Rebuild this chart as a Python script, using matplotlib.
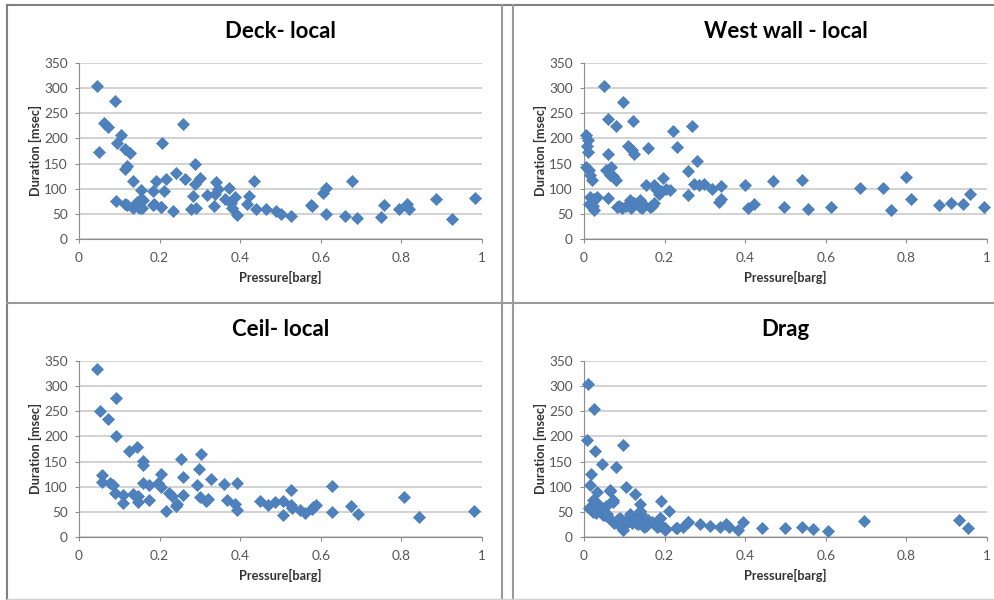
import matplotlib
matplotlib.use("Agg")
import matplotlib.pyplot as plt
from matplotlib.lines import Line2D

plt.rcParams['font.family'] = ['Lato', 'DejaVu Sans']

# Deck- local
deck_p = [0.045, 0.09, 0.05, 0.062, 0.073, 0.104, 0.095, 0.093, 0.114, 0.127,
          0.113, 0.12, 0.134, 0.114, 0.135, 0.143, 0.147, 0.155, 0.16, 0.156,
          0.184, 0.19, 0.185, 0.204, 0.21, 0.207, 0.215, 0.234, 0.24, 0.257,
          0.264, 0.279, 0.291, 0.283, 0.288, 0.288, 0.301, 0.318, 0.336, 0.34,
          0.337, 0.344, 0.363, 0.373, 0.376, 0.388, 0.38, 0.391, 0.416, 0.423,
          0.434, 0.439, 0.465, 0.488, 0.5, 0.525, 0.575, 0.579, 0.606, 0.614,
          0.612, 0.66, 0.691, 0.678, 0.749, 0.757, 0.793, 0.814, 0.819, 0.887,
          0.925, 0.983, 0.118, 0.151, 0.152, 0.184, 0.203]
deck_d = [305, 275, 173, 230, 223, 207, 191, 75, 178, 171,
          140, 146, 116, 69, 61, 74, 64, 97, 77, 61,
          95, 116, 69, 64, 96, 190, 119, 55, 132, 228,
          119, 59, 61, 86, 150, 110, 122, 87, 66, 114,
          89, 100, 79, 102, 71, 84, 61, 47, 69, 85,
          116, 59, 59, 56, 50, 46, 67, 66, 92, 102,
          50, 46, 41, 116, 44, 67, 59, 70, 59, 79,
          39, 82, 68, 78, 61, 67, 64]

# West wall - local
west_p = [0.05, 0.097, 0.059, 0.079, 0.122, 0.005, 0.011, 0.007, 0.009, 0.16,
          0.11, 0.12, 0.125, 0.06, 0.006, 0.012, 0.016, 0.019, 0.055, 0.067,
          0.064, 0.072, 0.08, 0.06, 0.016, 0.019, 0.026, 0.032, 0.026, 0.081,
          0.094, 0.115, 0.117, 0.131, 0.138, 0.15, 0.173, 0.155, 0.173, 0.18,
          0.186, 0.196, 0.204, 0.214, 0.222, 0.23, 0.258, 0.269, 0.257, 0.272,
          0.281, 0.285, 0.297, 0.318, 0.34, 0.334, 0.34, 0.399, 0.407, 0.423,
          0.469, 0.496, 0.541, 0.557, 0.612, 0.685, 0.743, 0.763, 0.8, 0.812,
          0.881, 0.91, 0.941, 0.959, 0.993, 0.138, 0.105, 0.165,
          0.088, 0.125, 0.145, 0.168, 0.178, 0.19, 0.012, 0.022]
west_d = [305, 272, 239, 225, 235, 207, 197, 184, 174, 180,
          184, 176, 170, 169, 144, 137, 127, 117, 137, 144,
          127, 125, 117, 82, 84, 74, 57, 84, 80, 64,
          61, 77, 61, 69, 77, 67, 71, 107, 107, 97,
          90, 122, 100, 97, 215, 182, 135, 225, 87, 109,
          156, 107, 109, 99, 106, 73, 79, 108, 62, 69,
          116, 64, 117, 59, 63, 102, 102, 57, 124, 79,
          67, 72, 69, 90, 63, 64, 66, 64,
          66, 72, 62, 65, 100, 95, 70, 65]

# Ceil- local
ceil_p = [0.045, 0.053, 0.072, 0.092, 0.093, 0.123, 0.145, 0.158, 0.158, 0.056,
          0.058, 0.077, 0.085, 0.089, 0.11, 0.108, 0.133, 0.147, 0.147, 0.158,
          0.174, 0.174, 0.197, 0.203, 0.203, 0.217, 0.224, 0.23, 0.24, 0.243,
          0.254, 0.259, 0.257, 0.292, 0.298, 0.302, 0.3, 0.315, 0.321, 0.328,
          0.36, 0.367, 0.388, 0.393, 0.393, 0.449, 0.469, 0.486, 0.507, 0.507,
          0.525, 0.527, 0.528, 0.548, 0.562, 0.577, 0.581, 0.589, 0.628, 0.628,
          0.674, 0.693, 0.807, 0.844, 0.979]
ceil_d = [334, 250, 234, 276, 200, 171, 179, 151, 143, 123,
          110, 108, 103, 88, 83, 68, 85, 81, 70, 108,
          104, 74, 108, 125, 100, 52, 88, 81, 62, 66,
          155, 120, 84, 103, 136, 166, 80, 71, 75, 116,
          106, 74, 65, 53, 108, 71, 64, 70, 71, 44,
          64, 94, 58, 53, 48, 56, 60, 64, 101, 50,
          61, 46, 80, 39, 52]

# Drag
drag_p = [0.01, 0.025, 0.008, 0.028, 0.097, 0.045, 0.08, 0.018, 0.014, 0.032,
          0.064, 0.072, 0.105, 0.126, 0.022, 0.014, 0.022, 0.031, 0.039, 0.047,
          0.035, 0.047, 0.06, 0.072, 0.084, 0.097, 0.101, 0.113, 0.13, 0.138,
          0.142, 0.148, 0.159, 0.192, 0.188, 0.18, 0.2, 0.21, 0.229, 0.246,
          0.258, 0.287, 0.313, 0.337, 0.353, 0.361, 0.381, 0.395, 0.442, 0.499,
          0.541, 0.568, 0.605, 0.696, 0.93, 0.953, 0.073, 0.065, 0.139, 0.16,
          0.189, 0.201, 0.114, 0.098, 0.081, 0.04, 0.027, 0.052, 0.089, 0.143,
          0.168, 0.23, 0.257, 0.012, 0.055,
          0.015, 0.02, 0.03, 0.035, 0.045, 0.05, 0.058, 0.065, 0.075, 0.085,
          0.09, 0.11, 0.12, 0.125, 0.135, 0.15, 0.155, 0.185, 0.195]
drag_d = [304, 255, 193, 171, 182, 146, 139, 125, 103, 90,
          92, 73, 100, 86, 73, 56, 50, 54, 53, 49,
          65, 43, 40, 30, 27, 13, 30, 46, 27, 66,
          46, 20, 30, 71, 37, 20, 13, 52, 17, 20,
          30, 25, 22, 19, 25, 20, 13, 30, 17, 18,
          20, 15, 12, 32, 33, 17, 70, 93, 52, 34,
          38, 18, 40, 24, 27, 60, 55, 44, 37, 30,
          30, 17, 30, 58, 62,
          60, 55, 48, 58, 52, 47, 45, 35, 28, 35,
          25, 30, 28, 35, 25, 28, 22, 22, 20]

titles = ["Deck- local", "West wall - local", "Ceil- local", "Drag"]
series = [(deck_p, deck_d), (west_p, west_d), (ceil_p, ceil_d), (drag_p, drag_d)]
y_ticks = [0, 50, 100, 150, 200, 250, 300, 350]
x_ticks = [0, 0.2, 0.4, 0.6, 0.8, 1]
x_ticklabels = ["0", "0.2", "0.4", "0.6", "0.8", "1"]

W, H = 995, 600
fig = plt.figure(figsize=(W / 100, H / 100), dpi=100)

# panel frames (pixel coords)
frame_col = "#9a9a9a"
def hline(y, x0, x1, c=frame_col, lw=1.5):
    fig.add_artist(Line2D([x0 / W, x1 / W], [1 - y / H, 1 - y / H], color=c, lw=lw))
def vline(x, y0, y1, c=frame_col, lw=1.5):
    fig.add_artist(Line2D([x / W, x / W], [1 - y0 / H, 1 - y1 / H], color=c, lw=lw))

hline(5, 7, 995, c="#808080")
vline(7, 5, 600, c="#808080")
hline(303, 7, 995)
vline(502, 5, 600)
vline(513, 5, 600)
hline(599, 7, 995, c="#d0d0d0", lw=1)

# axes positions: left px, top px
pos = [(79, 63), (584, 63), (79, 361), (584, 361)]
title_y = [32, 32, 330, 330]
xlab_y = [277, 277, 575, 575]
ylab_x = [35, 540, 35, 540]

for i, (px, py) in enumerate(pos):
    ax = fig.add_axes([px / W, 1 - (py + 176) / H, 403 / W, 176 / H])
    xs, ys = series[i]
    ax.plot(xs, ys, linestyle="none", marker="D", markersize=6.2,
            markerfacecolor="#4F81BD", markeredgecolor="#4A7EBB",
            markeredgewidth=0.5, zorder=3, clip_on=False)
    ax.set_xlim(0, 1)
    ax.set_ylim(0, 350)
    ax.set_yticks(y_ticks)
    ax.set_xticks(x_ticks)
    ax.set_xticklabels(x_ticklabels)
    ax.grid(axis="y", color="#c6c6c6", lw=1.1)
    ax.set_axisbelow(True)
    for s in ["top", "right"]:
        ax.spines[s].set_visible(False)
    for s in ["left", "bottom"]:
        ax.spines[s].set_color("#8c8c8c")
        ax.spines[s].set_linewidth(0.8)
    ax.tick_params(axis="both", direction="out", length=3, width=0.8,
                   color="#8c8c8c", labelsize=9.8, labelcolor="#555555")
    ax.tick_params(axis="y", pad=5)
    ax.tick_params(axis="x", pad=6)
    cx = (px + 403 / 2) / W
    fig.text(cx, 1 - title_y[i] / H, titles[i], ha="center", va="center",
             fontsize=16, fontweight="bold")
    fig.text(cx, 1 - xlab_y[i] / H, "Pressure[barg]", ha="center", va="center",
             fontsize=9.2, fontweight="bold", color="#333333")
    fig.text(ylab_x[i] / W, 1 - (py + 88) / H, "Duration [msec]", ha="center",
             va="center", rotation=90, fontsize=9.2, fontweight="bold",
             color="#333333")

fig.savefig("out.png", dpi=100)
